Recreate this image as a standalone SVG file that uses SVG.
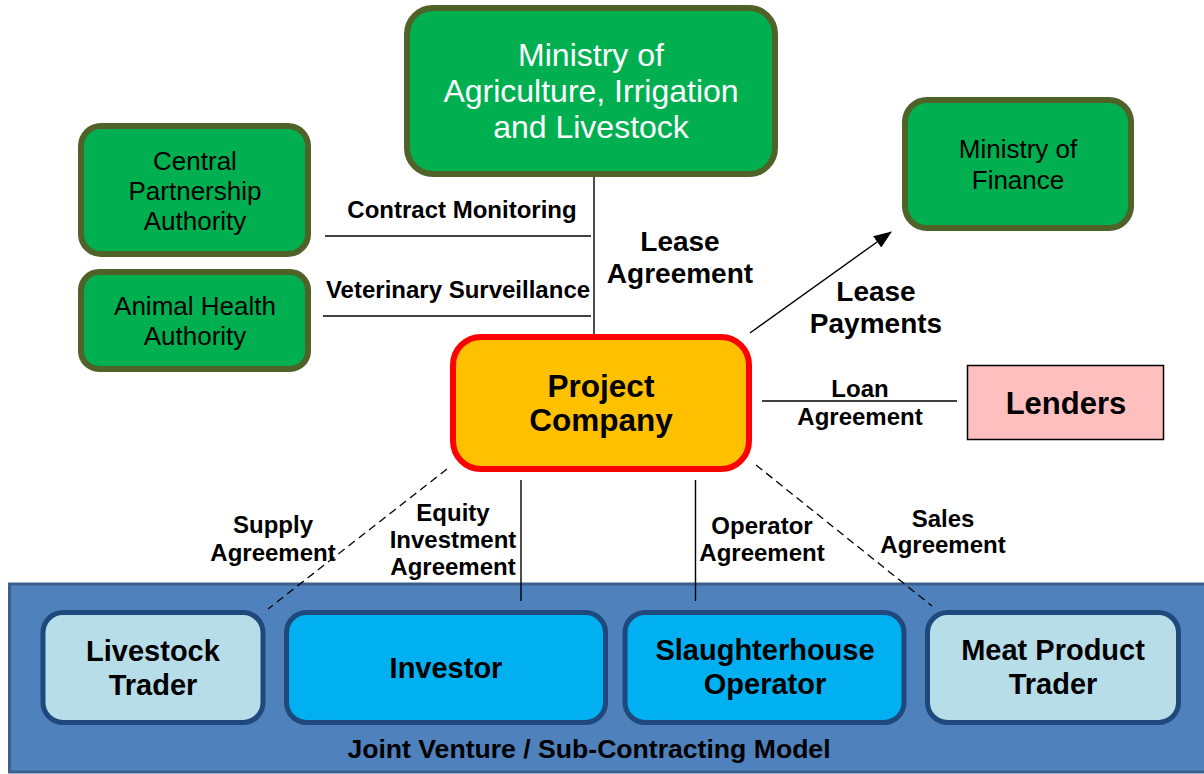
<svg xmlns="http://www.w3.org/2000/svg" width="1204" height="774" viewBox="0 0 1204 774">
<defs>
<style>
text{font-family:"Liberation Sans",Arial,sans-serif;text-anchor:middle;fill:#000}
.green{fill:#00B050;stroke:#4F6228;stroke-width:6}
.lbl{font-size:24px;font-weight:bold}
.big{font-size:28px;font-weight:bold}
.gt{font-size:26px}
.bt{font-size:29px;font-weight:bold}
.pale{fill:#B7DDE8;stroke:#1F497D;stroke-width:5}
.cyan{fill:#00B0F0;stroke:#1F497D;stroke-width:5}
.ln{stroke:#000;stroke-width:1.4;fill:none}
.dash{stroke:#000;stroke-width:1.3;fill:none;stroke-dasharray:8,5}
</style>
<marker id="ah" markerWidth="18" markerHeight="14" refX="17" refY="7" orient="auto" markerUnits="userSpaceOnUse">
<path d="M0,0 L18,7 L0,14 Z" fill="#000"/>
</marker>
</defs>
<rect width="1204" height="774" fill="#fff"/>

<g id="jv-panel">
<rect x="9.5" y="584" width="1200" height="188" fill="#4F81BD" stroke="#3B5E8C" stroke-width="3"/>
<text x="589" y="758" style="font-size:26.6px;font-weight:bold">Joint Venture / Sub-Contracting Model</text>
</g>

<g id="connectors">
<line class="ln" x1="594" y1="176" x2="594" y2="335"/>
<line class="ln" x1="325" y1="236" x2="591" y2="236"/>
<line class="ln" x1="323" y1="316" x2="591" y2="316"/>
<line class="ln" x1="750" y1="333" x2="891" y2="232" stroke-width="2" marker-end="url(#ah)"/>
<line class="ln" x1="762" y1="401" x2="957" y2="401"/>
<line class="dash" x1="447" y1="469" x2="268" y2="609"/>
<line class="ln" x1="521" y1="480" x2="521" y2="601"/>
<line class="ln" x1="695.5" y1="480" x2="695.5" y2="601"/>
<line class="dash" x1="756" y1="465" x2="932" y2="606"/>
<text class="lbl" x="462" y="218">Contract Monitoring</text>
<text class="lbl" x="458" y="298">Veterinary Surveillance</text>
<text class="big" x="680" y="251">Lease</text>
<text class="big" x="680" y="283">Agreement</text>
<text class="big" x="876" y="301">Lease</text>
<text class="big" x="876" y="333">Payments</text>
<text class="lbl" x="860" y="397">Loan</text>
<text class="lbl" x="860" y="425">Agreement</text>
<text class="lbl" x="273" y="533">Supply</text>
<text class="lbl" x="273" y="561">Agreement</text>
<text class="lbl" x="453" y="521">Equity</text>
<text class="lbl" x="453" y="548">Investment</text>
<text class="lbl" x="453" y="575">Agreement</text>
<text class="lbl" x="762" y="534">Operator</text>
<text class="lbl" x="762" y="561">Agreement</text>
<text class="lbl" x="943" y="527">Sales</text>
<text class="lbl" x="943" y="553">Agreement</text>
</g>

<g id="moa">
<rect class="green" x="407" y="8" width="368" height="166" rx="26"/>
<text x="591" y="66" style="font-size:32px;fill:#fff">Ministry of</text>
<text x="591" y="102" style="font-size:32px;fill:#fff">Agriculture, Irrigation</text>
<text x="591" y="138" style="font-size:32px;fill:#fff">and Livestock</text>
</g>

<g id="cpa">
<rect class="green" x="81" y="126" width="227" height="128" rx="20"/>
<text class="gt" x="195" y="170">Central</text>
<text class="gt" x="195" y="200">Partnership</text>
<text class="gt" x="195" y="230">Authority</text>
</g>

<g id="aha">
<rect class="green" x="81" y="272" width="227" height="97" rx="18"/>
<text class="gt" x="195" y="315">Animal Health</text>
<text class="gt" x="195" y="345">Authority</text>
</g>

<g id="mof">
<rect class="green" x="905" y="100" width="226" height="128" rx="22"/>
<text class="gt" x="1018" y="158">Ministry of</text>
<text class="gt" x="1018" y="189">Finance</text>
</g>

<g id="project">
<rect x="453" y="337" width="296" height="132" rx="28" fill="#FFC000" stroke="#FF0000" stroke-width="6"/>
<text x="601" y="397" style="font-size:31.5px;font-weight:bold">Project</text>
<text x="601" y="431" style="font-size:31.5px;font-weight:bold">Company</text>
</g>

<g id="lenders">
<rect x="967.5" y="365.5" width="196" height="74" fill="#FFBFBF" stroke="#000" stroke-width="1.5"/>
<text x="1066" y="414" style="font-size:31px;font-weight:bold">Lenders</text>
</g>

<g id="livestock">
<rect class="pale" x="43" y="612.5" width="220" height="110" rx="20"/>
<text class="bt" x="153" y="661">Livestock</text>
<text class="bt" x="153" y="695">Trader</text>
</g>

<g id="investor">
<rect class="cyan" x="286.5" y="612.5" width="319" height="110" rx="20"/>
<text class="bt" x="446" y="678">Investor</text>
</g>

<g id="slaughter">
<rect class="cyan" x="625" y="612.5" width="279" height="110" rx="20"/>
<text class="bt" x="765" y="660">Slaughterhouse</text>
<text class="bt" x="765" y="694">Operator</text>
</g>

<g id="meat">
<rect class="pale" x="927.5" y="612.5" width="251" height="110" rx="20"/>
<text class="bt" x="1053" y="660">Meat Product</text>
<text class="bt" x="1053" y="694">Trader</text>
</g>
</svg>
